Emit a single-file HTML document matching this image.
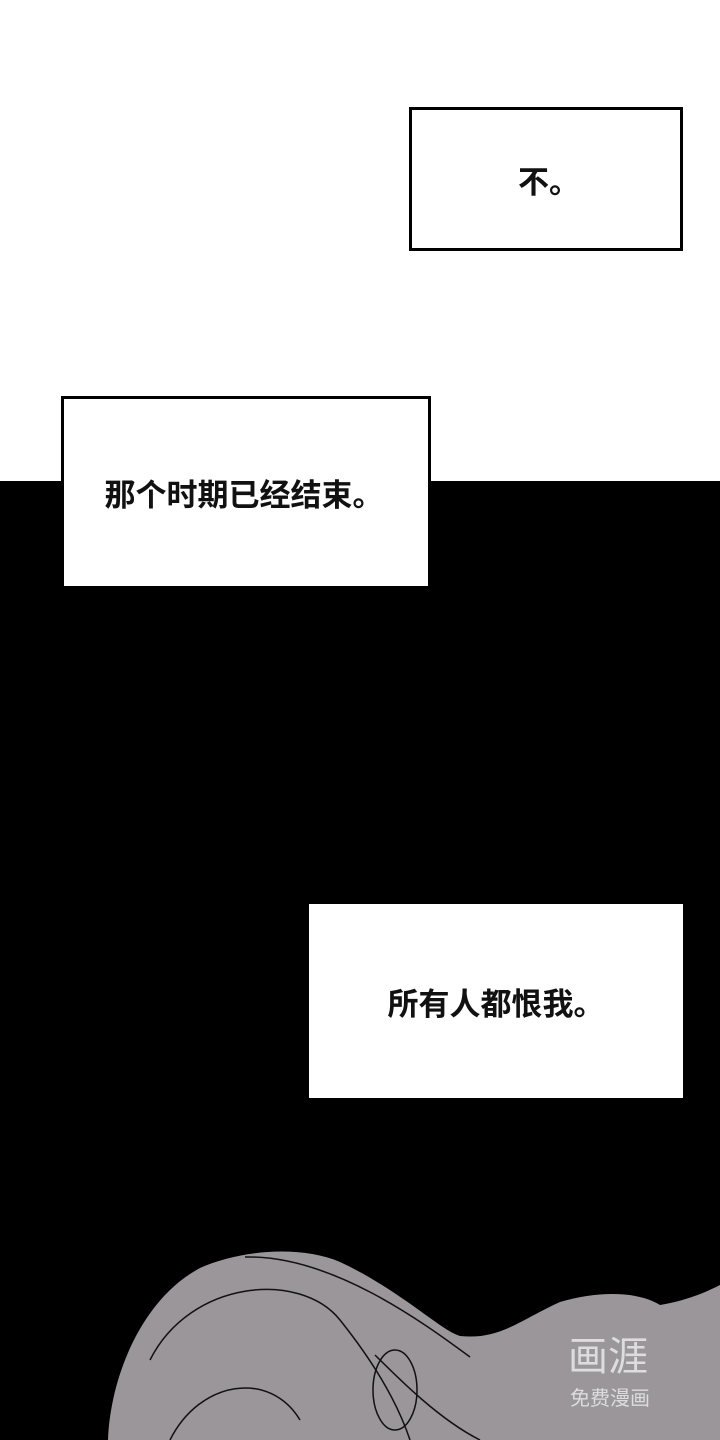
<!DOCTYPE html>
<html><head><meta charset="utf-8"><style>
body{margin:0;width:720px;height:1440px;position:relative;overflow:hidden;background:#fff;font-family:"Liberation Sans","Noto Sans CJK SC",sans-serif;}
.blk{position:absolute;left:0;top:481px;width:720px;height:959px;background:#000;}
.box{position:absolute;background:#fff;box-sizing:border-box;display:flex;align-items:center;justify-content:center;font-size:31px;font-weight:bold;color:#111;}
</style></head><body>
<div class="blk"></div>
<div class="box" style="left:409px;top:107px;width:274px;height:144px;border:3px solid #000;"><span style="margin-left:6px">不。</span></div>
<div class="box" style="left:61px;top:396px;width:370px;height:193px;border:3px solid #000;"><span style="margin-right:4px">那个时期已经结束。</span></div>
<div class="box" style="left:309px;top:904px;width:374px;height:194px;">所有人都恨我。</div>
<svg style="position:absolute;left:0;top:0" width="720" height="1440">
<path d="M108 1440 C110 1380 140 1300 200 1268 C240 1250 300 1245 340 1262 C400 1290 440 1330 460 1336 C500 1340 520 1320 560 1302 C600 1290 640 1292 660 1305 C690 1300 710 1290 720 1285 L720 1440 Z" fill="#9a969a"/>
<path d="M245 1257 C330 1255 420 1320 470 1357" stroke="#111" fill="none" stroke-width="1.5"/>
<path d="M150 1360 C190 1280 300 1270 340 1320 C380 1370 400 1410 410 1440" stroke="#111" fill="none" stroke-width="1.5"/>
<path d="M170 1440 C200 1380 270 1370 300 1420" stroke="#111" fill="none" stroke-width="1.5"/>
<path d="M375 1355 C400 1380 440 1420 480 1440" stroke="#111" fill="none" stroke-width="1.5"/>
<ellipse cx="395" cy="1390" rx="22" ry="40" fill="none" stroke="#111" stroke-width="1.5"/>
<text x="568" y="1370" font-size="40" fill="#ddd" font-family="Noto Sans CJK SC,sans-serif">画涯</text>
<text x="570" y="1405" font-size="20" fill="#ddd" font-family="Noto Sans CJK SC,sans-serif">免费漫画</text>
</svg>
</body></html>
